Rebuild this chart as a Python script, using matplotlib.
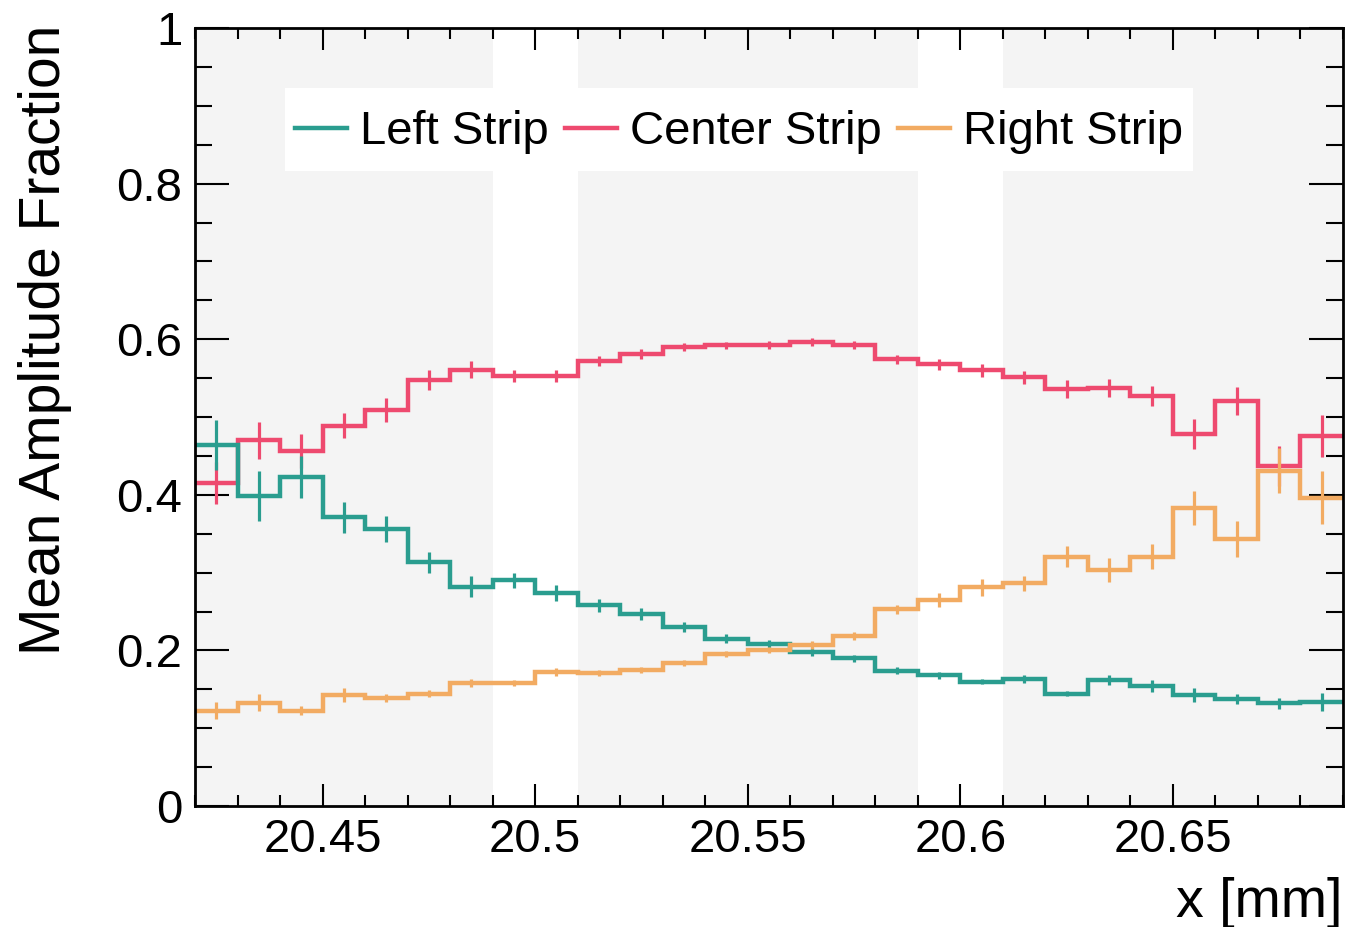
import numpy as np
import matplotlib
matplotlib.use("Agg")
import matplotlib.pyplot as plt
from matplotlib.patches import Rectangle
from matplotlib.ticker import MultipleLocator, FixedLocator

plt.rcParams['font.family'] = ['Liberation Sans', 'DejaVu Sans']

# Binning in x [mm]
x_low, x_high, n_bins = 20.42, 20.69, 27

# Mean amplitude fraction per bin
left_strip = [0.4645, 0.398, 0.423, 0.371, 0.356, 0.313, 0.282, 0.290, 0.274,
              0.258, 0.247, 0.2305, 0.215, 0.208, 0.198, 0.190, 0.174, 0.168,
              0.160, 0.163, 0.1445, 0.162, 0.1545, 0.143, 0.1375, 0.132, 0.134]
center_strip = [0.415, 0.470, 0.456, 0.489, 0.509, 0.548, 0.561, 0.553, 0.553,
                0.572, 0.581, 0.590, 0.592, 0.593, 0.596, 0.593, 0.574, 0.568,
                0.560, 0.551, 0.536, 0.537, 0.527, 0.478, 0.521, 0.437, 0.476]
right_strip = [0.1225, 0.133, 0.1225, 0.1427, 0.1384, 0.1446, 0.1585, 0.1585,
               0.1726, 0.1713, 0.1748, 0.1834, 0.1954, 0.2005, 0.207, 0.219,
               0.2528, 0.2648, 0.281, 0.286, 0.3204, 0.3033, 0.3205, 0.383,
               0.343, 0.431, 0.396]

# Statistical uncertainties per bin
left_err = [0.032, 0.032, 0.027, 0.020, 0.017, 0.0135, 0.0135, 0.0096, 0.010,
            0.008, 0.0075, 0.0065, 0.006, 0.005, 0.005, 0.0045, 0.0045, 0.0047,
            0.0036, 0.005, 0.003, 0.0064, 0.0075, 0.009, 0.007, 0.007, 0.0115]
center_err = [0.027, 0.024, 0.022, 0.016, 0.015, 0.013, 0.011, 0.008, 0.008,
              0.006, 0.006, 0.0055, 0.005, 0.005, 0.005, 0.005, 0.006, 0.007,
              0.0086, 0.008, 0.0116, 0.0118, 0.013, 0.019, 0.018, 0.026, 0.027]
right_err = [0.011, 0.011, 0.006, 0.009, 0.005, 0.005, 0.005, 0.004, 0.005,
             0.004, 0.004, 0.004, 0.004, 0.004, 0.005, 0.005, 0.006, 0.009,
             0.011, 0.010, 0.0137, 0.015, 0.016, 0.022, 0.023, 0.029, 0.034]

# Shaded strip regions (x ranges)
strip_regions = [(20.42, 20.49), (20.51, 20.59), (20.61, 20.69)]

labels = ["Left Strip", "Center Strip", "Right Strip"]
colors = ["#2A9D8F", "#EE4A6F", "#F2AB62"]

x_ticks = [20.45, 20.5, 20.55, 20.6, 20.65]
x_ticklabels = ["20.45", "20.5", "20.55", "20.6", "20.65"]
y_ticks = [0, 0.2, 0.4, 0.6, 0.8, 1.0]
y_ticklabels = ["0", "0.2", "0.4", "0.6", "0.8", "1"]

edges = np.linspace(x_low, x_high, n_bins + 1)
centers = 0.5 * (edges[:-1] + edges[1:])

W, H = 1370, 927
fig = plt.figure(figsize=(W / 100, H / 100), dpi=100)
ax = fig.add_axes([195 / W, 1 - 806 / H, (1343 - 195) / W, (806 - 28) / H])

for lo, hi in strip_regions:
    ax.axvspan(lo, hi, color="#F4F4F4", zorder=0, lw=0)

series = {
    "Left Strip": (left_strip, left_err),
    "Center Strip": (center_strip, center_err),
    "Right Strip": (right_strip, right_err),
}
draw_order = ["Center Strip", "Left Strip", "Right Strip"]
handles = {}
for i, name in enumerate(draw_order):
    vals, errs = series[name]
    c = colors[labels.index(name)]
    ax.stairs(vals, edges, baseline=None, color=c, lw=3.2, zorder=2 + i)
    ax.errorbar(centers, vals, yerr=errs, fmt="none", ecolor=c, elinewidth=2.3,
                capsize=0, zorder=2 + i)
    handles[name] = plt.Line2D([], [], color=c, lw=3.2)

ax.set_xlim(x_low, x_high)
ax.set_ylim(0, 1)

ax.xaxis.set_major_locator(FixedLocator(x_ticks))
ax.set_xticklabels(x_ticklabels)
ax.xaxis.set_minor_locator(MultipleLocator(0.01))
ax.yaxis.set_major_locator(FixedLocator(y_ticks))
ax.set_yticklabels(y_ticklabels)
ax.yaxis.set_minor_locator(MultipleLocator(0.05))

ax.tick_params(axis="both", which="both", direction="in", top=True, right=True,
               width=1.5, color="black", labelsize=34)
ax.tick_params(axis="x", which="major", length=16, pad=9)
ax.tick_params(axis="x", which="minor", length=8)
ax.tick_params(axis="y", which="major", length=24.5, pad=9)
ax.tick_params(axis="y", which="minor", length=12)
for s in ax.spines.values():
    s.set_linewidth(2.0)
    s.set_zorder(10)

ax.set_xlabel("x [mm]", fontsize=40, loc="right")
ax.xaxis.set_label_coords(1.0, -0.091)
ax.set_ylabel("Mean Amplitude Fraction", fontsize=41, loc="top")
ax.yaxis.set_label_coords(-0.107, 1.004)

# White legend panel with the entries centred inside it
box_l, box_r, box_t, box_b = 285, 1193, 88, 171
ax.add_patch(Rectangle((box_l / W, 1 - box_b / H), (box_r - box_l) / W,
                       (box_b - box_t) / H, transform=fig.transFigure,
                       facecolor="white", edgecolor="none", zorder=7,
                       clip_on=False))
leg = ax.legend([handles[n] for n in labels], labels, ncol=3, loc="center",
                bbox_to_anchor=((box_l + box_r) / 2 / W,
                                1 - ((box_t + box_b) / 2 + 3) / H),
                bbox_transform=fig.transFigure, fontsize=34, frameon=False,
                borderaxespad=0, borderpad=0.0,
                handlelength=1.1, handletextpad=0.28, columnspacing=0.34)
leg.set_zorder(8)

fig.savefig("out.png", dpi=100, facecolor="white")
